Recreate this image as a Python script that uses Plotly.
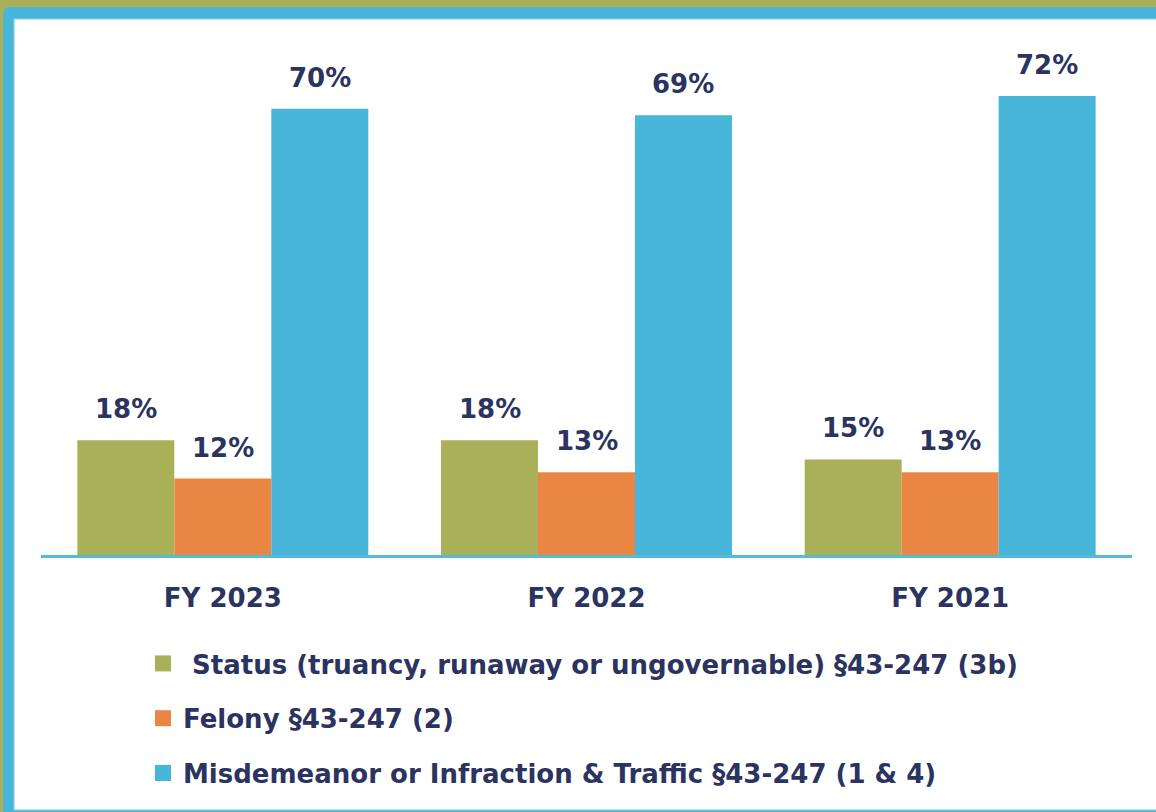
import plotly.graph_objects as go

categories = ["FY 2023", "FY 2022", "FY 2021"]
series_names = [
    " Status (truancy, runaway or ungovernable) §43-247 (3b)",
    "Felony §43-247 (2)",
    "Misdemeanor or Infraction & Traffic §43-247 (1 & 4)",
]
status_vals = [18, 18, 15]
felony_vals = [12, 13, 13]
misd_vals = [70, 69, 72]
series_vals = [status_vals, felony_vals, misd_vals]
colors = ["#A9B057", "#EA8644", "#48B6D8"]

TEXT = "#2B3360"
FONT = "DejaVu Sans"
W, H = 1156, 812
L, R, T, B = 41, 24, 45, 257
YMAX = 80
BARGAP = 0.2

fig = go.Figure()
for name, vals, col in zip(series_names, series_vals, colors):
    fig.add_trace(go.Bar(x=categories, y=vals, name=name, marker=dict(color=col, line=dict(width=0)),
                         showlegend=False, hoverinfo="skip"))
# legend proxies (bigger square markers)
for name, col in zip(series_names, colors):
    fig.add_trace(go.Scatter(x=[None], y=[None], mode="markers", name=name, legendgroup=name,
                             marker=dict(symbol="square", size=16, color=col), showlegend=True))

# value labels
n = len(series_vals)
bw = (1 - BARGAP) / n
anns = []
for i, vals in enumerate(series_vals):
    for j, v in enumerate(vals):
        anns.append(dict(x=j + (i - (n - 1) / 2) * bw, y=v, xref="x", yref="y", text=f"{v}%",
                         showarrow=False, yanchor="middle", yshift=31,
                         font=dict(family=FONT, size=26, color=TEXT, weight="bold")))

pw = W - L - R
ph = H - T - B
def px(x):
    return (x - L) / pw
def py(y):
    return (H - B - y) / ph

r = 7
shapes = [
    # blue frame with rounded corner
    dict(type="path", xref="paper", yref="paper", layer="below", line=dict(width=0), fillcolor="#48B6D8",
         path=(f"M {px(3)},{py(H+5)} L {px(3)},{py(7+r)} Q {px(3)},{py(7)} {px(3+r)},{py(7)} "
               f"L {px(W+5)},{py(7)} L {px(W+5)},{py(H+5)} Z")),
    dict(type="rect", xref="paper", yref="paper", layer="below", line=dict(width=1, color="#7CCCE6"),
         fillcolor="white", x0=px(14), y0=py(810), x1=px(W + 10), y1=py(19)),
]

fig.update_layout(
    width=W, height=H,
    margin=dict(l=L, r=R, t=T, b=B, pad=0),
    paper_bgcolor="#AAAF58",
    plot_bgcolor="rgba(0,0,0,0)",
    barmode="group", bargap=BARGAP, bargroupgap=0,
    shapes=shapes,
    annotations=anns,
    showlegend=True,
    legend=dict(x=px(143), y=py(640), xanchor="left", yanchor="top", orientation="v",
                font=dict(family=FONT, size=26, color=TEXT, weight="bold"),
                tracegroupgap=18, bgcolor="rgba(0,0,0,0)", itemclick=False),
    xaxis=dict(showline=True, linecolor="#55BBDD", linewidth=2.5, showgrid=False, ticks="",
               tickfont=dict(family=FONT, size=26, color=TEXT, weight="bold"), ticklabelstandoff=18,
               fixedrange=True),
    yaxis=dict(range=[0, YMAX], visible=False, showgrid=False, zeroline=False, fixedrange=True),
)

fig.write_html("out.html", config={"displayModeBar": False},
               post_script="document.body.style.margin='0';document.body.style.overflow='hidden';")
